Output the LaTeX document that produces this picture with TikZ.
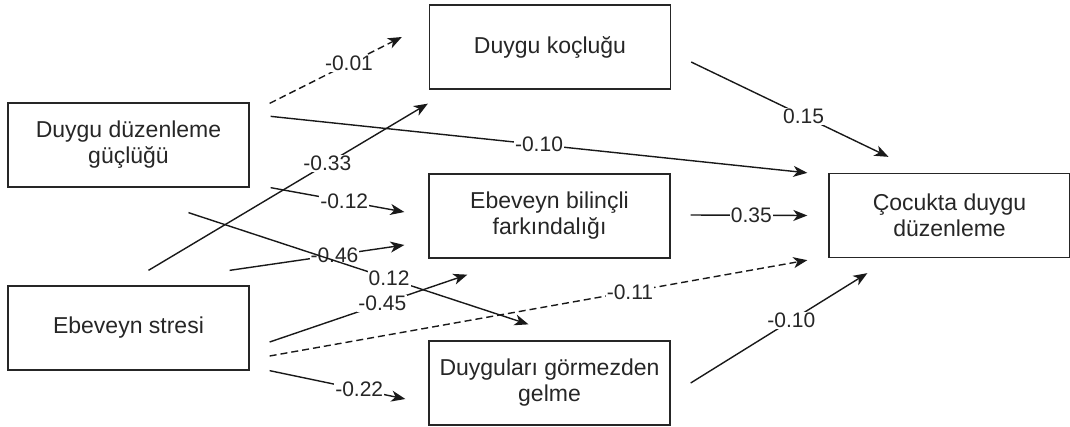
\documentclass[tikz,border=0pt]{standalone}
\usepackage{fontspec}
\setmainfont{Liberation Sans}
\usetikzlibrary{arrows.meta,calc}

\begin{document}
\begin{tikzpicture}[x=1pt, y=-1pt,
    box/.style={draw=black!85, line width=1.3pt, minimum width=241pt, minimum height=84pt,
        align=center, text=black!85, font=\fontsize{23}{26}\selectfont},
    arr/.style={draw=black!90, line width=1.4pt, -{Stealth[length=14pt,width=11pt,inset=4pt]}},
    dsh/.style={dash pattern=on 7pt off 4pt},
    coef/.style={fill=white, inner sep=1pt, text=black!85, font=\fontsize{21}{24}\selectfont}]
    \useasboundingbox (0,0) rectangle (1070,426);
    \node[box] (ddg) at (128.5,145) {Duygu düzenleme\\güçlüğü};
    \node[box] (es) at (128.5,328) {Ebeveyn stresi};
    \node[box] (dk) at (550,47) {Duygu koçluğu};
    \node[box] (ebf) at (549.5,216) {Ebeveyn bilinçli\\farkındalığı};
    \node[box] (dgg) at (549.5,383) {Duyguları görmezden\\gelme};
    \node[box] (cdd) at (949.5,215.5) {Çocukta duygu\\düzenleme};
    \draw[arr, dsh] ($(ddg.north east)+(20,1)$) -- ($(dk.west)+(-27,-10)$) node[coef, pos=0.6] {-0.01};
    \draw[arr] ($(ddg.north east)+(21,14)$) -- ($(cdd.north west)+(-21,0)$) node[coef, pos=0.5] {-0.10};
    \draw[arr] ($(es.north)+(20,-15)$) -- ($(dk.south west)+(-1,14)$) node[coef, pos=0.64] {-0.33};
    \draw[arr] ($(ddg.south east)+(21,0)$) -- ($(ebf.west)+(-24,-4)$) node[coef, pos=0.55] {-0.12};
    \draw[arr] ($(es.north east)+(-20,-15)$) -- ($(ebf.west)+(-24,29)$) node[coef, pos=0.6] {-0.46};
    \draw[arr] ($(ddg.south)+(60,25)$) -- ($(dgg.north)+(-21,-16)$) node[coef, pos=0.59] {0.12};
    \draw[arr] ($(es.east)+(20,14)$) -- ($(ebf.south west)+(39,16)$) node[coef, pos=0.57] {-0.45};
    \draw[arr, dsh] ($(es.east)+(20,28)$) -- ($(cdd.south west)+(-21,2)$) node[coef, pos=0.67] {-0.11};
    \draw[arr] ($(es.south east)+(20,0)$) -- ($(dgg.west)+(-23,16)$) node[coef, pos=0.66] {-0.22};
    \draw[arr] ($(dk.east)+(20,15)$) -- ($(cdd.north)+(-61,-16)$) node[coef, pos=0.57] {0.15};
    \draw[arr] ($(ebf.east)+(20,-1)$) -- ($(cdd.west)+(-21,0)$) node[coef, pos=0.52] {0.35};
    \draw[arr] ($(dgg.east)+(20,0)$) -- ($(cdd.south west)+(39,15)$) node[coef, pos=0.57] {-0.10};
\end{tikzpicture}
\end{document}
